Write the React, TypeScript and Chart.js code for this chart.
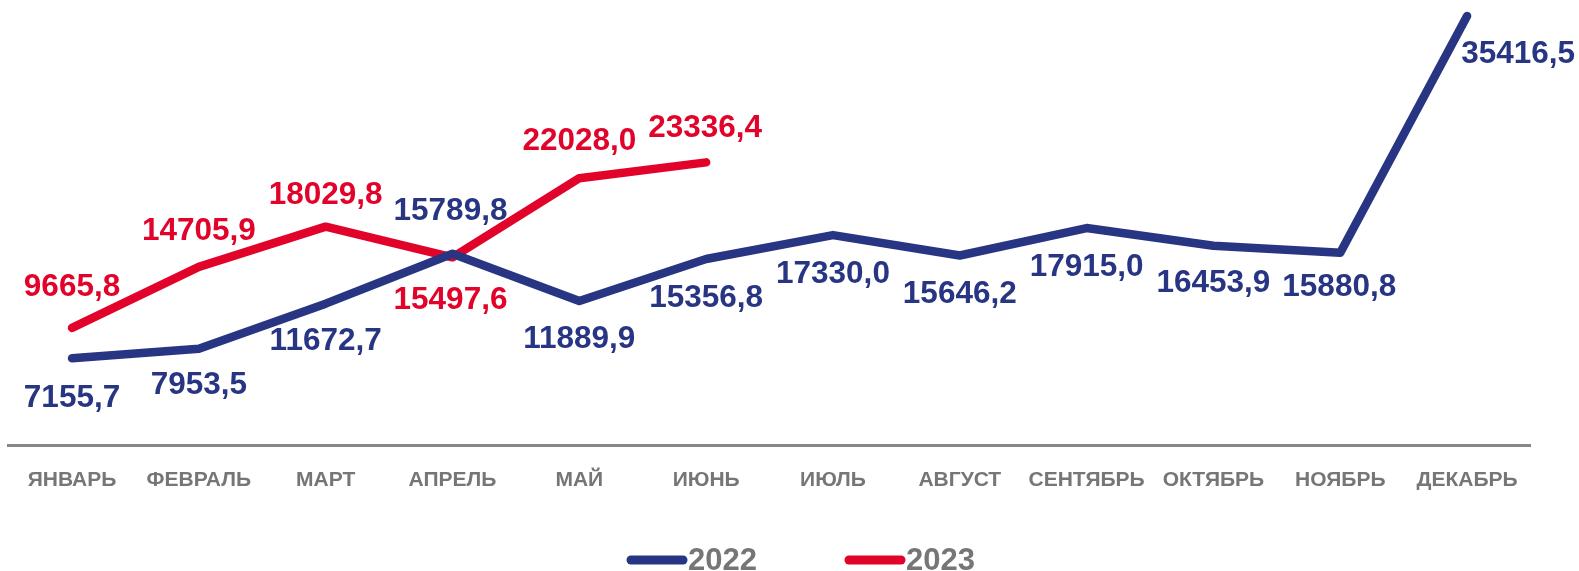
import React, { useEffect, useRef } from "react";
import { Chart, registerables } from "chart.js";

Chart.register(...registerables);

const categories = ["ЯНВАРЬ", "ФЕВРАЛЬ", "МАРТ", "АПРЕЛЬ", "МАЙ", "ИЮНЬ", "ИЮЛЬ", "АВГУСТ", "СЕНТЯБРЬ", "ОКТЯБРЬ", "НОЯБРЬ", "ДЕКАБРЬ"];
const series2022 = [7155.7, 7953.5, 11672.7, 15789.8, 11889.9, 15356.8, 17330.0, 15646.2, 17915.0, 16453.9, 15880.8, 35416.5];
const series2023 = [9665.8, 14705.9, 18029.8, 15497.6, 22028.0, 23336.4];
const seriesNames = ["2022", "2023"];

const BLUE = "#283583";
const RED = "#e2032b";
const GRAY = "#767676";
const FONT = "'Liberation Sans', Arial, sans-serif";

// label offsets (dx, dy) in pixels relative to each point
const offsets2022: [number, number][] = [
  [0, 40], [0, 37], [0, 38], [-2, -42], [0, 38], [0, 39], [0, 39], [0, 39], [0, 39], [0, 38], [-1, 35], [51, 38],
];
const offsets2023: [number, number][] = [
  [0, -41], [0, -36], [0, -31], [-2, 43], [0, -37], [-1, -34],
];

const fmt = (v: number) => v.toFixed(1).replace(".", ",");

const labelPlugin = {
  id: "valueLabels",
  afterDatasetsDraw(chart: any) {
    const ctx = chart.ctx;
    ctx.save();
    ctx.font = `bold 31.5px ${FONT}`;
    ctx.textAlign = "center";
    ctx.textBaseline = "middle";
    chart.data.datasets.forEach((ds: any, i: number) => {
      const meta = chart.getDatasetMeta(i);
      const offs = i === 0 ? offsets2022 : offsets2023;
      ctx.fillStyle = ds.borderColor;
      meta.data.forEach((pt: any, j: number) => {
        const v = ds.data[j];
        if (v == null) return;
        const [dx, dy] = offs[j] || [0, -36];
        ctx.fillText(fmt(v), pt.x + dx, pt.y + dy);
      });
    });
    ctx.restore();
  },
  afterDraw(chart: any) {
    const ctx = chart.ctx;
    ctx.save();
    const items = [
      { x: 627, color: BLUE, text: chart.data.datasets[0].label },
      { x: 845, color: RED, text: chart.data.datasets[1].label },
    ];
    items.forEach((it) => {
      ctx.strokeStyle = it.color;
      ctx.lineWidth = 9;
      ctx.lineCap = "round";
      ctx.beginPath();
      ctx.moveTo(it.x + 4, 560);
      ctx.lineTo(it.x + 56, 560);
      ctx.stroke();
      ctx.fillStyle = GRAY;
      ctx.font = `bold 31px ${FONT}`;
      ctx.textAlign = "left";
      ctx.textBaseline = "alphabetic";
      ctx.fillText(it.text, it.x + 61, 570);
    });
    ctx.restore();
  },
};

export default function App() {
  const ref = useRef<HTMLCanvasElement>(null);
  useEffect(() => {
    if (!ref.current) return;
    const chart = new Chart(ref.current, {
      type: "line",
      data: {
        labels: categories,
        datasets: [
          {
            label: seriesNames[0],
            data: series2022,
            borderColor: BLUE,
            backgroundColor: BLUE,
            borderWidth: 8.5,
            borderCapStyle: "round",
            borderJoinStyle: "round",
            pointRadius: 0,
            tension: 0,
            clip: false as any,
          },
          {
            label: seriesNames[1],
            data: series2023,
            borderColor: RED,
            backgroundColor: RED,
            borderWidth: 8.5,
            borderCapStyle: "round",
            borderJoinStyle: "round",
            pointRadius: 0,
            tension: 0,
            clip: false as any,
          },
        ],
      },
      options: {
        animation: false,
        responsive: true,
        maintainAspectRatio: false,
        layout: { padding: { top: 9, left: 8.6, right: 48.5, bottom: 0 } },
        plugins: { legend: { display: false }, tooltip: { enabled: false } },
        scales: {
          x: {
            offset: true,
            grid: { display: false },
            border: { display: true, color: "#878787", width: 3 },
            ticks: {
              color: GRAY,
              font: { family: FONT, size: 21, weight: "bold" },
              padding: 15,
              maxRotation: 0,
              autoSkip: false,
            },
            afterFit: (scale: any) => {
              scale.height = 126;
            },
          },
          y: {
            display: false,
            min: 0,
            max: 36000,
          },
        },
      },
      plugins: [labelPlugin],
    });
    return () => chart.destroy();
  }, []);
  return (
    <div style={{ position: "absolute", left: 0, top: 0, width: 1579, height: 571 }}>
      <canvas ref={ref} />
    </div>
  );
}
